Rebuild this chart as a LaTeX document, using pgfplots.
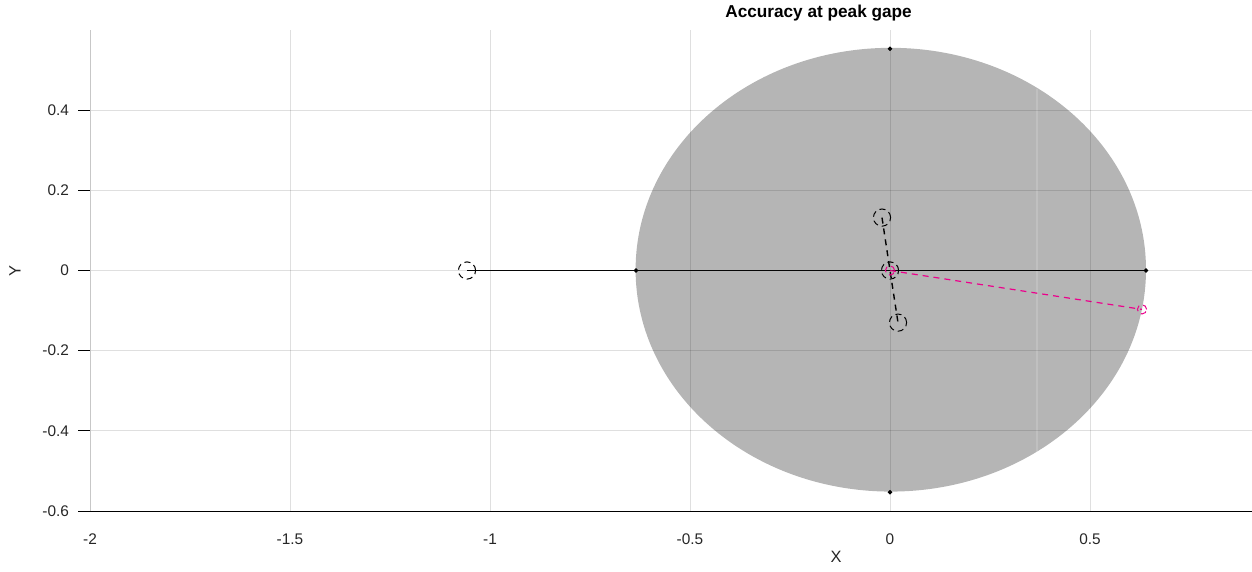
\documentclass[border=0pt]{standalone}
\usepackage{fontspec}
\setmainfont{Liberation Sans}
\usepackage{pgfplots}
\pgfplotsset{compat=1.18}
\definecolor{ellgray}{RGB}{181,181,181}
\definecolor{ticktext}{RGB}{38,38,38}
\begin{document}
\begin{tikzpicture}
\begin{axis}[
  scale only axis, width=581pt, height=240.5pt,
  xmin=-2, xmax=0.905, ymin=-0.6, ymax=0.6,
  axis x line*=bottom, axis y line*=left,
  xtick={-2,-1.5,-1,-0.5,0,0.5},
  ytick={-0.6,-0.4,-0.2,0,0.2,0.4},
  xticklabels={-2,-1.5,-1,-0.5,0,0.5},
  yticklabels={-0.6,-0.4,-0.2,0,0.2,0.4},
  tick align=outside,
  xtick style={draw=none},
  ytick style={black, thin},
  major tick length=6pt,
  grid=major,
  grid style={black!85, opacity=0.15, line width=0.5pt},
  axis on top,
  x axis line style={black, line width=0.5pt},
  y axis line style={black!22, line width=0.5pt},
  tick label style={font=\fontsize{7.7}{9}\selectfont, text=ticktext},
  xticklabel style={yshift=-2pt},
  yticklabel style={xshift=-1pt},
  title={Accuracy at peak gape},
  title style={font=\fontsize{8.6}{10}\bfseries\selectfont, at={(axis description cs:0.627,1)}, anchor=center, yshift=2.5pt},
  xlabel={X},
  xlabel style={font=\fontsize{8.2}{10}\selectfont, text=ticktext, at={(axis description cs:0.642,0)}, anchor=center, yshift=-23pt},
  ylabel={Y},
  ylabel style={font=\fontsize{8.2}{10}\selectfont, text=ticktext, at={(axis description cs:0,0.499)}, anchor=center, yshift=37.5pt},
]
\coordinate (ll) at (rel axis cs:0,0);
\coordinate (ur) at (rel axis cs:1,1);
\fill[ellgray] (axis cs:0.002,0.002) ellipse [x radius=0.638, y radius=0.5535];
\addplot[white, opacity=0.15, line width=0.6pt] coordinates {(0.3675,-0.452) (0.3675,0.452)};
\addplot[black, line width=0.6pt] coordinates {(-2,-0.6) (-2,-0.573)};
\addplot[black, solid, line width=0.75pt] coordinates {(-1.0575,0) (0.64,0)};
\addplot[black, dash pattern=on 3pt off 2.5pt, line width=0.7pt] coordinates {(-0.02,0.132) (0,0) (0.02,-0.13)};
\addplot[magenta, dash pattern=on 3pt off 2.5pt, line width=0.6pt] coordinates {(0,0) (0.63,-0.097)};
\addplot[only marks, mark=*, mark size=0.9pt, black] coordinates {(-0.635,0) (0.64,0) (0,0.553) (0,-0.553)};
\addplot[only marks, mark=o, mark size=4.3pt, black, mark options={densely dashed, line width=0.5pt}] coordinates {(-1.0575,0) (-0.02,0.132) (0.02,-0.13) (0,0)};
\addplot[only marks, mark=o, mark size=2.3pt, magenta, mark options={densely dashed, line width=0.5pt}] coordinates {(0,0) (0.63,-0.097)};
\end{axis}
\pgfresetboundingbox
\path ([shift={(-45pt,-30pt)}]ll) rectangle ([shift={(0pt,15pt)}]ur);
\end{tikzpicture}
\end{document}
